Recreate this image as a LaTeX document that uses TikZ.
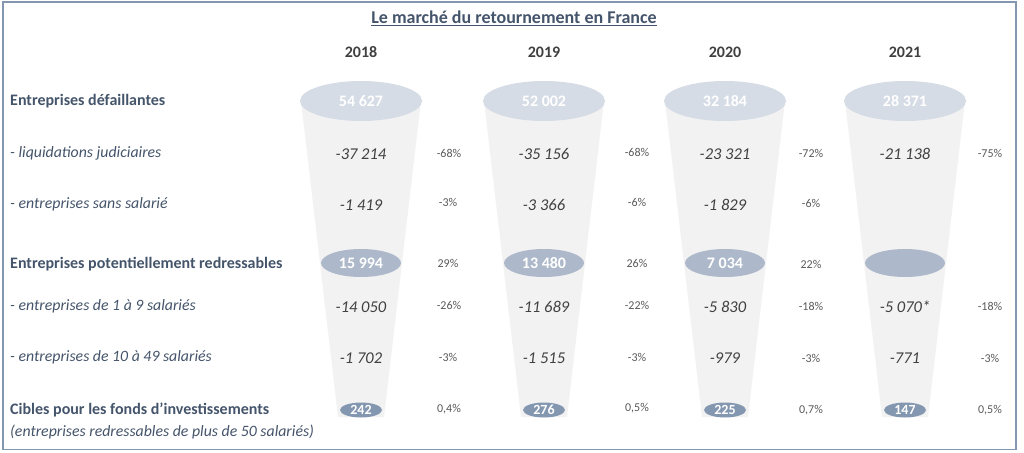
\documentclass[tikz,border=0pt]{standalone}
\usepackage{fontspec}
\setmainfont{Carlito}
\usetikzlibrary{shapes.geometric}
\definecolor{funnelc}{HTML}{F2F2F2}
\definecolor{elA}{HTML}{D6DCE5}
\definecolor{elB}{HTML}{ADB9CA}
\definecolor{elC}{HTML}{8497B0}
\definecolor{labc}{HTML}{44546A}
\definecolor{numc}{HTML}{404040}
\definecolor{pctc}{HTML}{595959}
\definecolor{framec}{HTML}{8497B0}
\begin{document}
\begin{tikzpicture}[x=1pt,y=-1pt,
  lbl/.style={anchor=west,text=labc,inner sep=0,font=\fontsize{16}{19}\selectfont\bfseries},
  sublbl/.style={anchor=west,text=labc,inner sep=0,font=\fontsize{15.8}{19}\selectfont\itshape},
  num/.style={text=numc,inner sep=0,font=\fontsize{16.5}{19}\selectfont\itshape},
  pct/.style={text=pctc,inner sep=0,font=\fontsize{12}{14}\selectfont},
  year/.style={text=numc,inner sep=0,font=\fontsize{16}{19}\selectfont\bfseries},
  topel/.style={ellipse,fill=elA,minimum width=122,minimum height=40,inner sep=0,text=white,font=\fontsize{16}{19}\selectfont\bfseries},
  midel/.style={ellipse,fill=elB,minimum width=80,minimum height=28,inner sep=0,text=white,font=\fontsize{16}{19}\selectfont\bfseries},
  botel/.style={ellipse,fill=elC,minimum width=42,minimum height=15,inner sep=0,text=white,font=\fontsize{14}{15}\selectfont\bfseries},
  funnel/.style={fill=funnelc}]
\useasboundingbox (0,0) rectangle (1024,452);
\draw[framec,line width=1.2pt] (3,2) rectangle (1016,449.5);
\node[text=labc,font=\fontsize{18}{21}\selectfont\bfseries] (title) at (514,18) {\underline{Le marché du retournement en France}};
% funnels
\foreach \x in {361,544,725,905}{
  \fill[funnel] ({\x-60},101) -- ({\x+60},101) -- ({\x+23},417) -- ({\x-23},417) -- cycle;
}
% years
\node[year] (y1) at (361,52) {2018};
\node[year] (y2) at (544,52) {2019};
\node[year] (y3) at (725,52) {2020};
\node[year] (y4) at (905,52) {2021};
% labels
\node[lbl] (l1) at (10,101) {Entreprises défaillantes};
\node[sublbl] (l2) at (10,153) {- liquidations judiciaires};
\node[sublbl] (l3) at (10,204) {- entreprises sans salarié};
\node[lbl] (l4) at (10,264) {Entreprises potentiellement redressables};
\node[sublbl] (l5) at (10,306) {- entreprises de 1 à 9 salariés};
\node[sublbl] (l6) at (10,357) {- entreprises de 10 à 49 salariés};
\node[lbl] (l7) at (10,410) {Cibles pour les fonds d’investissements};
\node[sublbl] (l8) at (10,432) {(entreprises redressables de plus de 50 salariés)};
% top ellipses
\node[topel] (a1) at (361,101) {54 627};
\node[topel] (a2) at (544,101) {52 002};
\node[topel] (a3) at (725,101) {32 184};
\node[topel] (a4) at (905,101) {28 371};
% liquidations
\node[num] (b1) at (361,154) {-37 214};
\node[num] (b2) at (544,154) {-35 156};
\node[num] (b3) at (725,154) {-23 321};
\node[num] (b4) at (905,154) {-21 138};
\node[pct] (bp1) at (449,153) {-68\%};
\node[pct] (bp2) at (637,152) {-68\%};
\node[pct] (bp3) at (811,153) {-72\%};
\node[pct] (bp4) at (990,153) {-75\%};
% sans salarie
\node[num] (c1) at (361,205) {-1 419};
\node[num] (c2) at (544,205) {-3 366};
\node[num] (c3) at (725,205) {-1 829};
\node[pct] (cp1) at (448,202) {-3\%};
\node[pct] (cp2) at (637,202) {-6\%};
\node[pct] (cp3) at (811,203) {-6\%};
% potentiellement
\node[midel] (d1) at (361,263) {15 994};
\node[midel] (d2) at (544,263) {13 480};
\node[midel] (d3) at (725,263) {7 034};
\node[midel] (d4) at (905,263) {};
\node[pct] (dp1) at (448,263) {29\%};
\node[pct] (dp2) at (637,263) {26\%};
\node[pct] (dp3) at (811,264) {22\%};
% 1 a 9
\node[num] (e1) at (361,307) {-14 050};
\node[num] (e2) at (544,307) {-11 689};
\node[num] (e3) at (725,307) {-5 830};
\node[num] (e4) at (905,307) {-5 070*};
\node[pct] (ep1) at (449,305) {-26\%};
\node[pct] (ep2) at (637,305) {-22\%};
\node[pct] (ep3) at (811,306) {-18\%};
\node[pct] (ep4) at (990,306) {-18\%};
% 10 a 49
\node[num] (f1) at (361,358) {-1 702};
\node[num] (f2) at (544,358) {-1 515};
\node[num] (f3) at (725,358) {-979};
\node[num] (f4) at (905,358) {-771};
\node[pct] (fp1) at (448,357) {-3\%};
\node[pct] (fp2) at (637,357) {-3\%};
\node[pct] (fp3) at (811,358) {-3\%};
\node[pct] (fp4) at (990,358) {-3\%};
% cibles
\node[botel] (g1) at (361,410) {242};
\node[botel] (g2) at (544,410) {276};
\node[botel] (g3) at (725,410) {225};
\node[botel] (g4) at (905,410) {147};
\node[pct] (gp1) at (449,409) {0,4\%};
\node[pct] (gp2) at (637,408) {0,5\%};
\node[pct] (gp3) at (811,410) {0,7\%};
\node[pct] (gp4) at (990,410) {0,5\%};
\end{tikzpicture}
\end{document}
